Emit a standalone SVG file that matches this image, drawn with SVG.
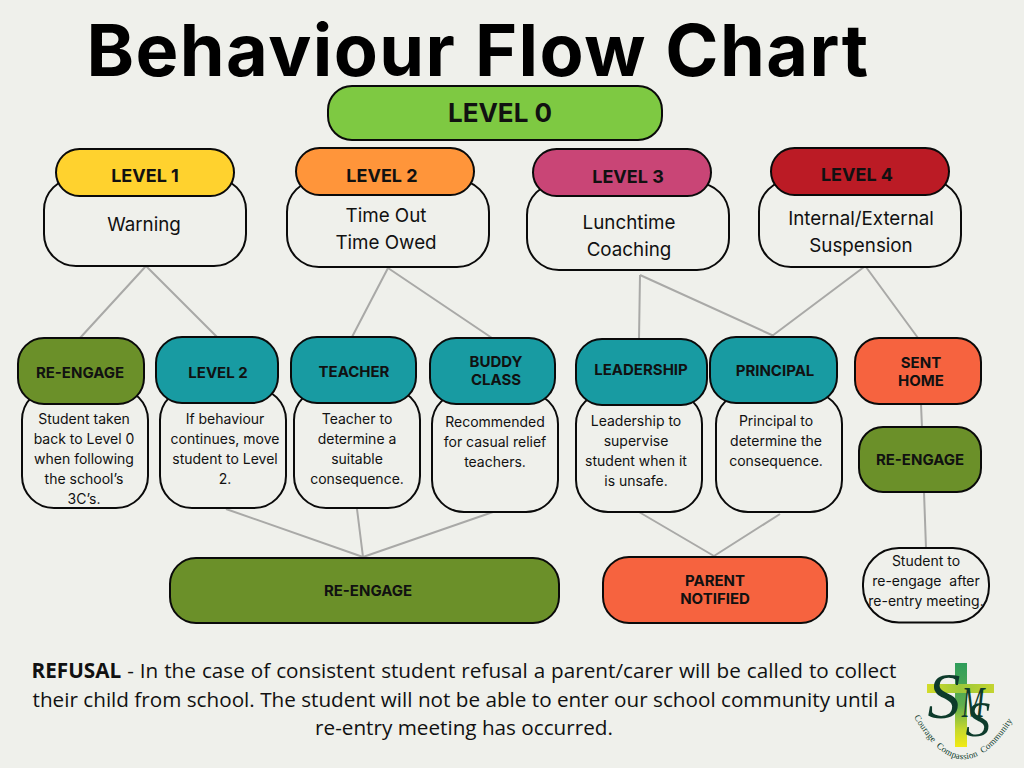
<svg xmlns="http://www.w3.org/2000/svg" width="1024" height="768" viewBox="0 0 1024 768">
<style>
text{font-family:"Inter","Roboto","Liberation Sans",sans-serif;text-anchor:middle;fill:#111}
.box{stroke:#0a0a0a;stroke-width:2}
.body{fill:#eff0eb;stroke:#0a0a0a;stroke-width:2}
.hd{font-weight:700;font-size:15px}
.lv{font-weight:700;font-size:18px}
.big{font-size:18.8px}
.sm{font-size:14px}
.conn{fill:none;stroke:#a9a9a7;stroke-width:2}
.oliv{fill:#6b9029}.teal{fill:#189ba2}.red{fill:#f6633f}
.rf{font-family:"Open Sans","Liberation Sans",sans-serif;font-size:20.7px}
.sc{font-family:"Liberation Serif",serif;font-style:italic;fill:#0d3b2b}
.cap{font-family:"Liberation Serif",serif;font-size:9px;fill:#0d3b2b;letter-spacing:.2px;text-anchor:start;white-space:pre}
</style>
<defs>
<linearGradient id="cv" x1="0" y1="0" x2="0" y2="1"><stop offset="0" stop-color="#2f9c5a"/><stop offset=".5" stop-color="#5fae4e"/><stop offset=".8" stop-color="#c8d92c"/><stop offset="1" stop-color="#f2ea14"/></linearGradient>
<linearGradient id="ch" x1="0" y1="0" x2="1" y2="0"><stop offset="0" stop-color="#d3dc2a"/><stop offset=".5" stop-color="#9cc83a"/><stop offset="1" stop-color="#c4d430"/></linearGradient>
<path id="arc" d="M914 717 Q962 800 1013 720"/>
</defs>
<rect width="1024" height="768" fill="#eff0eb"/>
<text id="title" x="478" y="76" style="font-weight:700;font-size:72px;letter-spacing:1.45px;fill:#000">Behaviour Flow Chart</text>
<g id="connectors" class="conn">
<path d="M146 266L80 338M146 266L218 338"/>
<path d="M388 268L352 337M388 268L492 338"/>
<path d="M640 275L639 339M640 275L774 336M864 267L772 336M866 267L918 338"/>
<path d="M921 404L922 428M924 492L926 548"/>
<path d="M226 509L363 557M357 509L363 557M493 512L363 557"/>
<path d="M639 512L714 556M780 514L714 556"/>
</g>
<g id="level0"><rect class="box" x="328" y="86" width="334" height="54" rx="24" fill="#7ec942"/><text x="500" y="122" style="font-weight:700;font-size:26px">LEVEL 0</text></g>
<g id="level1-body"><rect class="body" x="44" y="178" width="202" height="88" rx="32"/><text class="big" x="144" y="231">Warning</text></g>
<g id="level1"><rect class="box" x="56" y="149" width="178" height="47" rx="23.5" fill="#ffd22e"/><text class="lv" x="145" y="182">LEVEL 1</text></g>
<g id="level2-body"><rect class="body" x="287" y="180" width="202" height="87" rx="32"/><text class="big" x="386" y="222">Time Out</text><text class="big" x="386" y="249">Time Owed</text></g>
<g id="level2"><rect class="box" x="296" y="148" width="178" height="47" rx="23.5" fill="#ff953a"/><text class="lv" x="382" y="182">LEVEL 2</text></g>
<g id="level3-body"><rect class="body" x="527" y="183" width="202" height="87" rx="32"/><text class="big" x="629" y="229">Lunchtime</text><text class="big" x="629" y="256">Coaching</text></g>
<g id="level3"><rect class="box" x="533" y="149" width="178" height="47" rx="23.5" fill="#c94576"/><text class="lv" x="628" y="183">LEVEL 3</text></g>
<g id="level4-body"><rect class="body" x="759" y="180" width="202" height="87" rx="32"/><text class="big" x="861" y="225">Internal/External</text><text class="big" x="861" y="252">Suspension</text></g>
<g id="level4"><rect class="box" x="771" y="148" width="178" height="47" rx="23.5" fill="#bb1b25"/><text class="lv" x="857" y="181">LEVEL 4</text></g>

<g id="n1-body"><rect class="body" x="22" y="388" width="126" height="120" rx="32"/><text class="sm" x="84" y="424">Student taken</text><text class="sm" x="84" y="444">back to Level 0</text><text class="sm" x="84" y="464">when following</text><text class="sm" x="84" y="484">the school’s</text><text class="sm" x="84" y="504">3C’s.</text></g>
<g id="n1"><rect class="box oliv" x="18" y="338" width="126" height="66" rx="26"/><text class="hd" x="80" y="378">RE-ENGAGE</text></g>
<g id="n2-body"><rect class="body" x="160" y="388" width="126" height="120" rx="32"/><text class="sm" x="225" y="424">If behaviour</text><text class="sm" x="225" y="444">continues, move</text><text class="sm" x="225" y="464">student to Level</text><text class="sm" x="225" y="484">2.</text></g>
<g id="n2"><rect class="box teal" x="156" y="337" width="122" height="66" rx="26"/><text class="hd" x="218" y="378">LEVEL 2</text></g>
<g id="n3-body"><rect class="body" x="294" y="388" width="126" height="120" rx="32"/><text class="sm" x="357" y="424">Teacher to</text><text class="sm" x="357" y="444">determine a</text><text class="sm" x="357" y="464">suitable</text><text class="sm" x="357" y="484">consequence.</text></g>
<g id="n3"><rect class="box teal" x="291" y="337" width="125" height="66" rx="26"/><text class="hd" x="354" y="377">TEACHER</text></g>
<g id="n4-body"><rect class="body" x="432" y="392" width="126" height="120" rx="32"/><text class="sm" x="495" y="427">Recommended</text><text class="sm" x="495" y="447">for casual relief</text><text class="sm" x="495" y="467">teachers.</text></g>
<g id="n4"><rect class="box teal" x="430" y="338" width="125" height="66" rx="26"/><text class="hd" x="496" y="367">BUDDY</text><text class="hd" x="496" y="385">CLASS</text></g>
<g id="n5-body"><rect class="body" x="576" y="392" width="126" height="120" rx="32"/><text class="sm" x="636" y="426">Leadership to</text><text class="sm" x="636" y="446">supervise</text><text class="sm" x="636" y="466">student when it</text><text class="sm" x="636" y="486">is unsafe.</text></g>
<g id="n5"><rect class="box teal" x="576" y="339" width="131" height="66" rx="26"/><text class="hd" x="641" y="375">LEADERSHIP</text></g>
<g id="n6-body"><rect class="body" x="716" y="392" width="126" height="120" rx="32"/><text class="sm" x="776" y="426">Principal to</text><text class="sm" x="776" y="446">determine the</text><text class="sm" x="776" y="466">consequence.</text></g>
<g id="n6"><rect class="box teal" x="710" y="337" width="127" height="66" rx="26"/><text class="hd" x="775" y="376">PRINCIPAL</text></g>
<g id="sent"><rect class="box red" x="855" y="338" width="126" height="66" rx="24"/><text class="hd" x="921" y="368">SENT</text><text class="hd" x="921" y="386">HOME</text></g>
<g id="reengage2"><rect class="box oliv" x="859" y="427" width="122" height="65" rx="24"/><text class="hd" x="920" y="465">RE-ENGAGE</text></g>
<g id="note"><rect class="body" x="863" y="548" width="126" height="74.500" rx="36"/><text class="sm" x="926" y="566">Student to</text><text class="sm" x="926" y="586" style="white-space:pre">re-engage  after</text><text class="sm" x="926" y="606">re-entry meeting.</text></g>
<g id="reengage-wide"><rect class="box oliv" x="170" y="558" width="389" height="65" rx="26"/><text class="hd" x="368" y="596">RE-ENGAGE</text></g>
<g id="parent"><rect class="box red" x="603" y="557" width="224" height="66" rx="26"/><text class="hd" x="715" y="586">PARENT</text><text class="hd" x="715" y="604">NOTIFIED</text></g>
<g id="refusal">
<text class="rf" x="464" y="678" style="word-spacing:.6px"><tspan font-weight="700">REFUSAL</tspan> - In the case of consistent student refusal a parent/carer will be called to collect</text>
<text class="rf" x="464" y="706.500">their child from school. The student will not be able to enter our school community until a</text>
<text class="rf" x="464" y="735">re-entry meeting has occurred.</text>
</g>
<g id="logo">
<rect x="955" y="663" width="12" height="84" fill="url(#cv)"/>
<rect x="927" y="684" width="67" height="9" fill="url(#ch)"/>
<text class="sc" x="944" y="718" style="font-size:66px">S</text>
<text class="sc" transform="translate(973 717) scale(.62 1)" style="font-size:44px">M</text>
<text class="sc" x="978" y="736" style="font-size:50px">S</text>
<text class="cap"><textPath href="#arc">Courage  Compassion  Community</textPath></text>
</g>
</svg>
